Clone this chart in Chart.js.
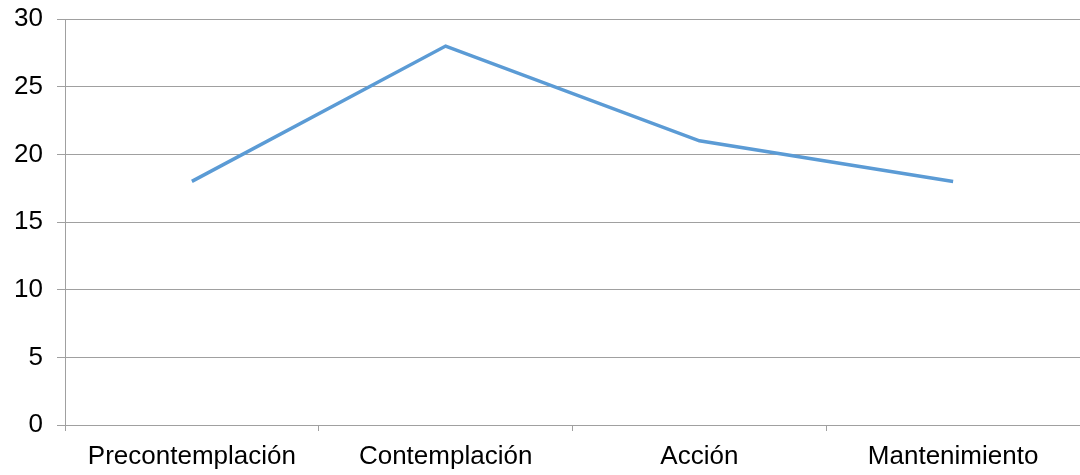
<!DOCTYPE html>
<html>
<head>
<meta charset="utf-8">
<script src="https://cdn.jsdelivr.net/npm/chart.js@4/dist/chart.umd.min.js"></script>
<style>
  html, body { margin: 0; padding: 0; background: #fff; }
  #wrap { width: 1080px; height: 475px; }
</style>
</head>
<body>
<div id="wrap"><canvas id="stagesChart"></canvas></div>
<script>
// Stages of change
const stages = ['Precontemplación', 'Contemplación', 'Acción', 'Mantenimiento'];
const counts = [18, 28, 21, 18];
const yMin = 0;
const yMax = 30;
const yStep = 5;

const gridGray = '#a0a0a0';
const labelFont = { family: 'Liberation Sans, Arial, sans-serif', size: 26 };

new Chart(document.getElementById('stagesChart'), {
    type: 'line',
    data: {
        labels: stages,
        datasets: [{
            data: counts,
            borderColor: '#5b9bd5',
            borderWidth: 3.5,
            pointRadius: 0,
            tension: 0,
            fill: false
        }]
    },
    options: {
        responsive: true,
        maintainAspectRatio: false,
        animation: false,
        layout: { padding: { top: 19, right: 0, bottom: 0, left: 0 } },
        plugins: {
            legend: { display: false },
            tooltip: { enabled: false }
        },
        scales: {
            x: {
                offset: true,
                grid: {
                    offset: true,
                    drawOnChartArea: false,
                    color: gridGray,
                    tickLength: 6
                },
                border: { color: gridGray, width: 1 },
                ticks: { color: '#000', font: labelFont, padding: 10, maxRotation: 0 },
                afterFit: scale => { scale.height = 50; }
            },
            y: {
                min: yMin,
                max: yMax,
                ticks: { stepSize: yStep, color: '#000', font: labelFont, padding: 14 },
                grid: { color: gridGray, tickLength: 8 },
                border: { color: gridGray, width: 1 },
                afterFit: scale => {
                    scale.width = 65;
                    scale.paddingTop = 0;
                    scale.paddingBottom = 0;
                }
            }
        }
    }
});
</script>
</body>
</html>
